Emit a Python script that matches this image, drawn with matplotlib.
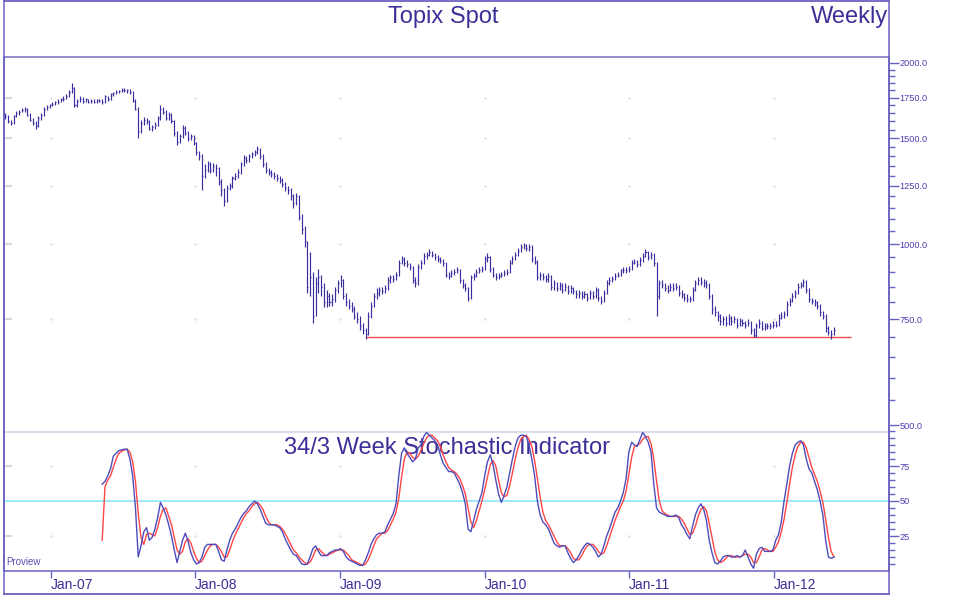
import pandas as pd
import matplotlib
matplotlib.use("Agg")
import matplotlib.pyplot as plt
import matplotlib.dates as mdates
from matplotlib.ticker import FixedLocator, FixedFormatter, NullFormatter
from matplotlib.lines import Line2D

plt.rcParams['font.family'] = ['Liberation Sans', 'DejaVu Sans']

# weekly Topix bars, Sep 2006 .. Jun 2012
weeks = pd.date_range('2006-09-08', periods=300, freq='7D')

close = [
    1630, 1600, 1590, 1630, 1650, 1660, 1670, 1680, 1640, 1610,
    1590, 1570, 1620, 1640, 1680, 1690, 1700, 1710, 1720, 1725,
    1740, 1745, 1760, 1790, 1820, 1700, 1730, 1745, 1730, 1740,
    1725, 1730, 1725, 1735, 1730, 1720, 1760, 1740, 1775, 1780,
    1790, 1795, 1805, 1800, 1800, 1790, 1730, 1680, 1540, 1590,
    1610, 1600, 1555, 1565, 1580, 1620, 1680, 1660, 1620, 1640,
    1600, 1530, 1480, 1510, 1560, 1530, 1500, 1510, 1470, 1420,
    1400, 1300, 1330, 1360, 1330, 1350, 1340, 1270, 1230, 1180,
    1240, 1250, 1290, 1300, 1320, 1360, 1390, 1380, 1400, 1410,
    1420, 1440, 1400, 1360, 1330, 1320, 1310, 1300, 1290, 1280,
    1260, 1240, 1230, 1200, 1170, 1200, 1110, 1060, 1010, 850,
    880, 760, 860, 880, 850, 800, 820, 800, 810, 840,
    860, 870, 820, 800, 790, 780, 760, 750, 730, 720,
    710, 760, 790, 820, 830, 840, 835, 845, 870, 880,
    875, 890, 930, 945, 930, 925, 915, 870, 860, 915,
    930, 955, 960, 970, 960, 950, 945, 940, 930, 890,
    885, 895, 900, 905, 870, 855, 845, 815, 880, 885,
    900, 905, 910, 945, 950, 910, 890, 880, 885, 890,
    895, 900, 930, 945, 960, 975, 990, 995, 985, 990,
    945, 935, 880, 890, 880, 875, 885, 850, 860, 845,
    855, 840, 850, 835, 845, 835, 825, 830, 820, 825,
    815, 830, 820, 840, 815, 805, 830, 860, 870, 875,
    885, 890, 905, 905, 905, 910, 930, 935, 925, 940,
    955, 970, 950, 960, 930, 820, 860, 855, 845, 840,
    850, 845, 850, 830, 825, 815, 810, 810, 840, 860,
    870, 865, 860, 855, 820, 780, 770, 760, 745, 750,
    740, 755, 745, 750, 735, 745, 740, 735, 740, 720,
    705, 730, 740, 725, 730, 730, 730, 735, 735, 755,
    760, 765, 795, 805, 820, 830, 850, 855, 865, 840,
    810, 805, 800, 790, 770, 760, 725, 715, 710, 720,
]

high = [
    1650, 1640, 1610, 1640, 1665, 1670, 1685, 1690, 1685, 1650,
    1620, 1600, 1630, 1650, 1690, 1700, 1710, 1720, 1730, 1740,
    1750, 1760, 1775, 1800, 1850, 1825, 1745, 1760, 1755, 1750,
    1745, 1740, 1740, 1745, 1745, 1740, 1770, 1765, 1785, 1790,
    1800, 1805, 1820, 1815, 1810, 1810, 1795, 1740, 1690, 1610,
    1625, 1620, 1605, 1580, 1595, 1630, 1700, 1690, 1670, 1655,
    1650, 1610, 1540, 1525, 1575, 1570, 1540, 1525, 1520, 1480,
    1430, 1410, 1360, 1375, 1370, 1365, 1360, 1345, 1285, 1240,
    1255, 1265, 1300, 1315, 1335, 1370, 1405, 1400, 1410, 1425,
    1435, 1455, 1445, 1410, 1370, 1340, 1330, 1320, 1310, 1300,
    1290, 1270, 1250, 1240, 1210, 1215, 1205, 1120, 1070, 1010,
    970, 900, 880, 910, 890, 860, 840, 830, 825, 850,
    870, 890, 875, 830, 810, 800, 790, 770, 760, 740,
    725, 770, 800, 830, 845, 850, 850, 855, 880, 890,
    890, 900, 940, 955, 950, 940, 930, 920, 880, 925,
    940, 965, 970, 980, 975, 965, 960, 950, 945, 935,
    900, 905, 910, 915, 910, 875, 860, 850, 890, 895,
    910, 915, 920, 955, 965, 955, 915, 895, 895, 900,
    905, 910, 940, 955, 970, 985, 1000, 1005, 1000, 1000,
    995, 955, 940, 900, 895, 890, 895, 890, 870, 865,
    865, 860, 860, 855, 855, 850, 840, 840, 835, 835,
    830, 840, 835, 850, 845, 820, 840, 870, 880, 885,
    895, 900, 910, 915, 915, 920, 940, 945, 940, 950,
    965, 980, 975, 970, 965, 935, 870, 870, 860, 855,
    860, 860, 860, 855, 840, 830, 825, 820, 850, 870,
    880, 880, 875, 870, 860, 825, 790, 775, 765, 760,
    760, 765, 760, 760, 755, 755, 750, 745, 750, 745,
    725, 740, 750, 745, 740, 740, 740, 745, 745, 765,
    770, 775, 805, 815, 830, 840, 860, 865, 875, 870,
    845, 815, 810, 805, 795, 775, 765, 730, 720, 728,
]

low = [
    1615, 1590, 1575, 1585, 1625, 1640, 1655, 1660, 1630, 1600,
    1575, 1555, 1565, 1610, 1635, 1670, 1685, 1695, 1705, 1710,
    1720, 1730, 1740, 1755, 1785, 1690, 1690, 1720, 1715, 1720,
    1715, 1715, 1715, 1715, 1720, 1710, 1715, 1730, 1735, 1765,
    1775, 1780, 1790, 1790, 1785, 1775, 1720, 1670, 1500, 1530,
    1575, 1585, 1545, 1540, 1555, 1570, 1610, 1645, 1605, 1610,
    1590, 1515, 1460, 1470, 1500, 1520, 1485, 1490, 1460, 1405,
    1380, 1230, 1290, 1320, 1315, 1320, 1300, 1255, 1200, 1155,
    1175, 1230, 1240, 1280, 1290, 1310, 1350, 1365, 1370, 1390,
    1400, 1410, 1385, 1345, 1315, 1305, 1295, 1285, 1275, 1265,
    1245, 1225, 1210, 1185, 1150, 1160, 1095, 1040, 990, 830,
    820, 740, 760, 830, 820, 785, 785, 790, 790, 800,
    830, 850, 810, 790, 780, 770, 750, 740, 720, 710,
    695, 705, 755, 785, 810, 820, 825, 830, 840, 860,
    865, 870, 885, 925, 920, 915, 905, 860, 850, 855,
    910, 925, 945, 955, 950, 940, 935, 930, 920, 880,
    875, 880, 890, 895, 860, 845, 835, 805, 810, 870,
    880, 895, 900, 905, 935, 900, 880, 870, 875, 880,
    885, 890, 895, 925, 940, 955, 970, 980, 975, 975,
    935, 925, 870, 870, 870, 865, 865, 840, 840, 835,
    840, 830, 835, 825, 830, 825, 815, 815, 810, 815,
    805, 810, 810, 815, 805, 795, 800, 825, 855, 865,
    870, 880, 885, 895, 895, 900, 905, 925, 915, 920,
    935, 950, 940, 945, 920, 760, 810, 845, 835, 830,
    835, 835, 840, 820, 815, 805, 800, 800, 805, 835,
    855, 855, 850, 845, 810, 765, 760, 745, 735, 735,
    730, 735, 735, 740, 725, 730, 730, 725, 730, 710,
    700, 700, 725, 720, 720, 722, 722, 725, 728, 730,
    750, 755, 760, 790, 800, 815, 825, 845, 850, 830,
    800, 795, 790, 780, 760, 750, 715, 705, 695, 705,
]

# 34/3 week stochastic, starts at bar 35
stoch_start = 35
stoch_k = [
    62, 64, 68, 73, 82, 84, 86, 86.5, 87, 87,
    80, 68, 45, 10, 18, 28, 31, 22, 24, 30,
    38, 49, 45, 40, 33, 25, 15, 6, 14, 22,
    27, 21, 13, 8, 5, 6, 10, 17, 19, 19,
    19, 19, 14, 8, 7, 15, 22, 27, 30, 34,
    38, 41, 43, 46, 48, 50, 48, 44, 39, 34,
    33, 33, 33, 32, 31, 28, 23, 19, 15, 12,
    11, 8, 5, 4.5, 5, 10, 16, 18, 14, 11,
    11, 11, 13, 14, 15, 15, 16, 14, 10, 8,
    7, 6, 5, 4, 4, 8, 13, 19, 23, 26,
    27, 27, 28, 33, 37, 41, 48, 68, 84, 88,
    84, 81, 78, 80, 88, 90, 96, 99, 97, 95,
    93, 90, 83, 77, 74, 71, 71, 70, 66, 62,
    56, 48, 30, 28, 36, 44, 50, 56, 68, 78,
    83, 76, 65, 55, 49, 54, 60, 70, 80, 89,
    95, 97, 97, 96, 90, 80, 68, 50, 40, 35,
    33, 30, 25, 20, 18, 17, 18, 18, 13, 9,
    6, 8, 11, 15, 18, 20, 19, 17, 14, 10,
    12, 18, 25, 30, 36, 42, 45, 50, 56, 66,
    85, 92, 90, 89, 94, 99, 96, 92, 85, 62,
    45, 42, 41, 40, 39, 39, 39, 40, 38, 33,
    30, 26, 23, 32, 40, 45, 48, 44, 36, 22,
    13, 6, 5, 7, 10, 11, 11, 10, 10, 11,
    10, 11, 15, 10, 5, 2, 12, 16, 17, 14,
    14, 14, 15, 22, 26, 35, 50, 62, 75, 84,
    90, 92, 93, 90, 80, 73, 70, 64, 58, 50,
    40, 22, 10, 9, 10,
]
stoch_d = [
    22, 60, 65, 68, 74, 80, 84, 85.5, 86.5, 87,
    85, 78, 64, 41, 24, 19, 26, 27, 26, 25,
    31, 39, 44, 45, 39, 33, 24, 15, 12, 14,
    21, 23, 20, 14, 9, 6, 7, 11, 15, 18,
    19, 19, 17, 14, 10, 10, 15, 21, 26, 30,
    34, 38, 41, 43, 46, 48, 49, 47, 44, 39,
    35, 33, 33, 33, 32, 30, 27, 23, 19, 15,
    13, 10, 8, 6, 5, 6.5, 10, 15, 16, 14,
    12, 11, 12, 13, 14, 15, 15, 15, 13, 11,
    8, 7, 6, 5, 4, 5, 8, 13, 18, 23,
    25, 27, 27, 29, 33, 37, 42, 52, 67, 80,
    85, 84, 81, 80, 82, 86, 91, 95, 97, 97,
    95, 93, 89, 83, 78, 74, 72, 71, 69, 66,
    61, 55, 45, 35, 31, 36, 43, 50, 58, 67,
    76, 79, 75, 65, 56, 53, 54, 61, 70, 80,
    88, 94, 96, 97, 94, 89, 79, 66, 53, 42,
    36, 33, 29, 25, 21, 18, 18, 18, 16, 13,
    9, 8, 8, 11, 15, 18, 19, 19, 17, 14,
    12, 13, 18, 24, 30, 36, 41, 46, 50, 57,
    69, 81, 89, 90, 91, 94, 96, 96, 91, 80,
    64, 50, 43, 41, 40, 39, 39, 39, 39, 37,
    34, 30, 26, 27, 32, 39, 44, 46, 43, 34,
    24, 14, 8, 6, 7, 9, 11, 11, 10, 10,
    10, 11, 12, 12, 10, 6, 6, 10, 15, 16,
    15, 14, 14, 17, 21, 28, 37, 49, 62, 74,
    83, 89, 92, 92, 88, 81, 74, 69, 64, 57,
    49, 37, 24, 14, 10,
]

support_level = 700
support_start = '2009-03-06'
support_end = '2012-07-13'

price_ticks = [500, 750, 1000, 1250, 1500, 1750, 2000]
price_minor = [p for p in range(550, 2000, 50) if p not in price_ticks]
stoch_ticks = [25, 50, 75]
stoch_minor = [v for v in range(5, 101, 5) if v not in stoch_ticks]
grid_price = [750, 1000, 1250, 1500, 1750]
grid_stoch = [25, 75]
years = pd.to_datetime(['2007-01-01', '2008-01-01', '2009-01-01',
                        '2010-01-01', '2011-01-01', '2012-01-01'])

ink = '#3b2f98'
frame = '#6a62c2'
bar_col = '#3a2f9e'
label_col = '#4a40b0'
faint = '#d6d6e4'

W, H = 956, 598
fig = plt.figure(figsize=(W / 100, H / 100), dpi=100)


def box(x0, y0, x1, y1):
    return [x0 / W, 1 - y1 / H, (x1 - x0) / W, (y1 - y0) / H]


ax = fig.add_axes(box(4, 57, 889, 431))
ax2 = fig.add_axes(box(4, 431, 889, 571), sharex=ax)

xd = mdates.date2num(weeks)

# price bars
ax.vlines(xd, low, high, color=bar_col, lw=0.85, zorder=3)
ax.hlines(close, xd, xd + 2.6, color=bar_col, lw=0.85, zorder=3)
ax.hlines(support_level, mdates.datestr2num(support_start),
          mdates.datestr2num(support_end), color='#f04848', lw=1.0, zorder=2)

ax.set_yscale('log')
ax.set_ylim(489, 2046)
ax.set_xlim(mdates.datestr2num('2006-09-05'), mdates.datestr2num('2012-10-18'))
ax.yaxis.tick_right()
ax.yaxis.set_major_locator(FixedLocator(price_ticks))
ax.yaxis.set_major_formatter(FixedFormatter(['%.1f' % p for p in price_ticks]))
ax.yaxis.set_minor_locator(FixedLocator(price_minor))
ax.yaxis.set_minor_formatter(NullFormatter())
ax.tick_params(axis='y', which='major', direction='out', length=7.5, width=1,
               color=frame, labelsize=6.6, labelcolor=label_col, pad=0)
ax.tick_params(axis='y', which='minor', direction='out', length=4.5, width=1,
               color=frame)
ax.tick_params(axis='x', which='both', bottom=False, labelbottom=False)
ax.spines['bottom'].set_visible(False)
ax.spines['top'].set_color('#7f79c6')
ax.spines['top'].set_linewidth(1.2)
for s in ['left', 'right']:
    ax.spines[s].set_color(frame)
    ax.spines[s].set_linewidth(1.1)

# stochastic panel
xs = xd[stoch_start:stoch_start + len(stoch_k)]
ax2.axhline(100, color='#dcdcea', lw=2.2, zorder=1)
ax2.axhline(50, color='#8ce6f6', lw=1.2, zorder=1)
ax2.plot(xs, stoch_d, color='#ff4545', lw=1.0, zorder=3)
ax2.plot(xs, stoch_k, color='#4d4cbc', lw=1.0, zorder=4)
ax2.set_ylim(0, 100)
ax2.yaxis.tick_right()
ax2.yaxis.set_major_locator(FixedLocator(stoch_ticks))
ax2.yaxis.set_major_formatter(FixedFormatter([str(v) for v in stoch_ticks]))
ax2.yaxis.set_minor_locator(FixedLocator(stoch_minor))
ax2.yaxis.set_minor_formatter(NullFormatter())
ax2.tick_params(axis='y', which='major', direction='out', length=7.5, width=1,
                color=frame, labelsize=6.6, labelcolor=label_col, pad=0)
ax2.tick_params(axis='y', which='minor', direction='out', length=4.5, width=1,
                color=frame)
ax2.xaxis.set_major_locator(FixedLocator(mdates.date2num(years)))
ax2.xaxis.set_major_formatter(mdates.DateFormatter('%b-%y'))
ax2.tick_params(axis='x', which='major', direction='out', length=5, width=1,
                color=frame, labelsize=10, labelcolor=ink, pad=0)
ax2.tick_params(axis='x', which='minor', bottom=False)
for lbl in ax2.get_xticklabels():
    lbl.set_horizontalalignment('left')
ax2.spines['top'].set_visible(False)
for s in ['left', 'right', 'bottom']:
    ax2.spines[s].set_color(frame)
    ax2.spines[s].set_linewidth(1.1)

# faint grid dots and left stubs
yr = mdates.date2num(years)
for axis, levels in [(ax, grid_price), (ax2, grid_stoch)]:
    gx = [x for x in yr for _ in levels]
    gy = [y for _ in yr for y in levels]
    axis.plot(gx, gy, ls='none', marker='s', ms=1.6, mec='none', color=faint,
              zorder=1)
    axis.hlines(levels, 0, 8 / 885, transform=axis.get_yaxis_transform(),
                color=faint, lw=1.5, zorder=1)

# texts
fig.text(443.5 / W, 1 - 23.5 / H, 'Topix Spot', ha='center', va='baseline',
         fontsize=17, color=ink)
fig.text(888 / W, 1 - 23.5 / H, 'Weekly', ha='right', va='baseline',
         fontsize=17, color=ink)
ax2.text(447 / W, 1 - 454 / H, '34/3 Week Stochastic Indicator',
         transform=fig.transFigure, ha='center', va='baseline', fontsize=17,
         color=ink, zorder=2)
fig.text(6 / W, 1 - 565 / H, 'Proview', ha='left', va='baseline', fontsize=7,
         color='#5a52b4')

# outer frame
def fline(x0, y0, x1, y1, lw=1.1):
    fig.add_artist(Line2D([x0 / W, x1 / W], [1 - y0 / H, 1 - y1 / H],
                          transform=fig.transFigure, color=frame, lw=lw))


fline(4, 0.6, 889, 0.6, 1.3)
fline(4, 594, 889, 594, 1.3)
fline(4, 0, 4, 594)
fline(889, 0, 889, 594)

fig.savefig('out.png', dpi=100, facecolor='white')
